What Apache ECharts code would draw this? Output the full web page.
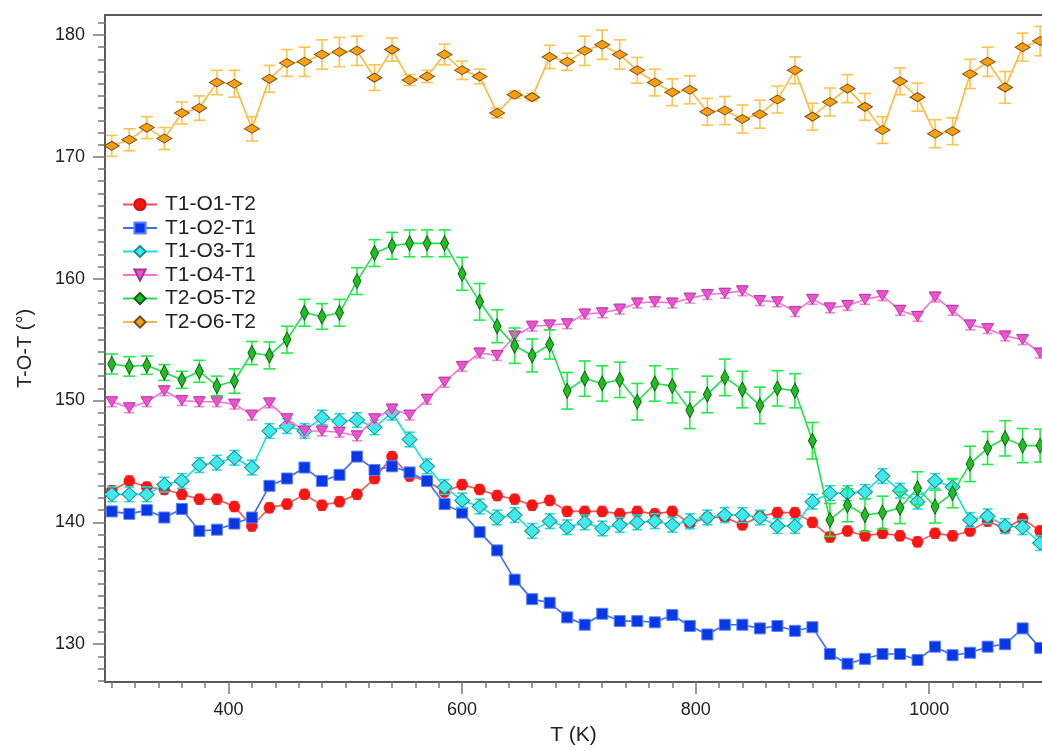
<!DOCTYPE html>
<html><head><meta charset="utf-8">
<script src="https://cdn.jsdelivr.net/npm/echarts@6/dist/echarts.min.js"></script>
<style>html,body{margin:0;padding:0;background:#fff}#c{width:1042px;height:751px}</style>
</head><body><div id="c"></div>
<script>
// Temperatures (K)
const temps = [300,315,330,345,360,375,390,405,420,435,450,465,480,495,510,525,540,555,570,585,600,615,630,645,660,675,690,705,720,735,750,765,780,795,810,825,840,855,870,885,900,915,930,945,960,975,990,1005,1020,1035,1050,1065,1080,1095];

const seriesNames = ['T1-O1-T2','T1-O2-T1','T1-O3-T1','T1-O4-T1','T2-O5-T2','T2-O6-T2'];

const t1o1t2 = [142.6,143.4,142.9,142.7,142.3,141.9,141.9,141.3,139.7,141.2,141.5,142.3,141.4,141.7,142.3,143.6,145.4,143.8,143.4,142.5,143.1,142.7,142.2,141.9,141.4,141.8,140.9,140.9,140.9,140.7,140.9,140.7,140.9,139.9,140.4,140.4,139.8,140.5,140.8,140.8,140.0,138.8,139.3,138.9,139.1,138.9,138.4,139.1,138.9,139.3,140.1,139.5,140.3,139.3];
const t1o2t1 = [140.9,140.7,141.0,140.4,141.1,139.3,139.4,139.9,140.4,143.0,143.6,144.5,143.4,143.9,145.4,144.3,144.6,144.1,143.4,141.5,140.8,139.2,137.7,135.3,133.7,133.4,132.2,131.6,132.5,131.9,131.9,131.8,132.4,131.5,130.8,131.6,131.6,131.3,131.5,131.1,131.4,129.2,128.4,128.8,129.2,129.2,128.7,129.8,129.1,129.3,129.8,130.0,131.3,129.7];
const t1o3t1 = [142.3,142.3,142.3,143.1,143.4,144.7,144.9,145.3,144.5,147.5,147.9,147.5,148.6,148.3,148.4,147.8,149.0,146.8,144.6,142.9,141.8,141.3,140.4,140.6,139.3,140.1,139.6,140.0,139.5,139.8,140.0,140.1,139.8,140.1,140.4,140.6,140.6,140.4,139.7,139.7,141.7,142.4,142.4,142.5,143.8,142.6,141.7,143.4,142.9,140.2,140.5,139.7,139.6,138.3];
const t1o4t1 = [149.9,149.4,149.9,150.8,150.0,149.9,149.9,149.7,148.8,149.8,148.5,147.5,147.5,147.4,147.1,148.5,149.3,148.8,150.1,151.5,152.8,153.9,153.7,155.3,156.1,156.2,156.3,157.1,157.2,157.5,158.0,158.1,158.0,158.4,158.7,158.8,159.0,158.2,158.1,157.3,158.3,157.6,157.8,158.3,158.6,157.4,156.9,158.5,157.4,156.2,155.9,155.3,155.0,153.9];
const t2o5t2 = [153.0,152.8,152.9,152.3,151.7,152.4,151.2,151.6,153.9,153.7,155.0,157.2,156.9,157.2,159.8,162.1,162.7,162.9,162.9,162.9,160.4,158.1,156.1,154.5,153.7,154.6,150.8,151.8,151.4,151.7,149.9,151.4,151.2,149.2,150.5,151.9,150.9,149.6,151.0,150.8,146.7,140.2,141.4,140.6,140.8,141.2,142.8,141.3,142.4,144.8,146.1,146.9,146.3,146.3];
const t2o6t2 = [170.9,171.4,172.4,171.5,173.6,174.0,176.1,176.0,172.3,176.4,177.7,177.8,178.4,178.6,178.7,176.5,178.8,176.3,176.6,178.4,177.1,176.6,173.6,175.1,174.9,178.2,177.8,178.7,179.2,178.4,177.1,176.1,175.3,175.5,173.7,173.8,173.1,173.5,174.7,177.1,173.3,174.5,175.6,174.1,172.2,176.2,174.9,171.9,172.1,176.8,177.8,175.7,179.0,179.5];

// Error bar half-widths (deg)
const errT1O1T2 = [0.4];
const errT1O2T1 = [0.35];
const errT1O3T1 = [0.6];
const errT1O4T1 = [0.4];
const errT2O5T2 = [0.82,0.8,0.75,0.65,0.7,0.9,0.8,1.0,0.95,1.1,1.1,1.1,1.05,1.1,1.1,1.1,1.1,1.1,1.1,1.1,1.35,1.5,1.35,1.45,1.35,1.2,1.5,1.45,1.45,1.45,1.5,1.45,1.4,1.5,1.5,1.5,1.5,1.5,1.45,1.4,1.5,1.35,1.35,1.35,1.35,1.3,1.35,1.35,1.2,1.45,1.35,1.45,1.4,1.35];
const errT2O6T2 = [0.86,0.9,0.9,0.9,0.9,1.0,1.0,1.1,1.0,1.1,1.1,1.2,1.2,1.2,1.2,1.05,0.95,0.45,0.5,0.85,0.75,0.6,0.4,0.3,0.3,0.95,0.7,1.2,1.2,1.2,1.05,1.1,1.1,1.15,1.1,1.15,1.15,1.15,1.1,1.1,1.1,1.15,1.15,1.1,1.1,1.1,1.15,1.15,1.1,1.2,1.2,1.3,1.15,1.2];

// Tick labels
const xTickLabels = [400,600,800,1000];
const xMinorTicks = [300,320,340,360,380,420,440,460,480,500,520,540,560,580,620,640,660,680,700,720,740,760,780,820,840,860,880,900,920,940,960,980,1020,1040,1060,1080];
const yTickLabels = [130,140,150,160,170,180];
const yMinorTicks = [127,128,129,131,132,133,134,135,136,137,138,139,141,142,143,144,145,146,147,148,149,151,152,153,154,155,156,157,158,159,161,162,163,164,165,166,167,168,169,171,172,173,174,175,176,177,178,179,181];

const allVals = [t1o1t2,t1o2t1,t1o3t1,t1o4t1,t2o5t2,t2o6t2];
const allErr = [errT1O1T2,errT1O2T1,errT1O3T1,errT1O4T1,errT2O5T2,errT2O6T2];

const styles = [
  {symbol:'circle', size:11, rotate:0, fill:'#ff1414', border:'#d01010', bw:0.5, line:'#ff5050', err:'#ff6a6a', cap:4},
  {symbol:'rect', size:11, rotate:0, fill:'#0838e6', border:'#5a82ff', bw:1, line:'#3d6bff', err:'#6b8cff', cap:4},
  {symbol:'diamond', size:[15,14], rotate:0, fill:'#40eaea', border:'#1f8f93', bw:1, line:'#10e2e2', err:'#10e2e2', cap:5},
  {symbol:'triangle', size:[12,10], rotate:180, fill:'#f04fd2', border:'#9a3a8c', bw:0.8, line:'#ff6fd9', err:'#ff7fdd', cap:5},
  {symbol:'diamond', size:[8,15], rotate:0, fill:'#1fbf22', border:'#125c14', bw:1, line:'#1de24a', err:'#20ec48', cap:6},
  {symbol:'diamond', size:[15,9], rotate:0, fill:'#ff9f10', border:'#6b5026', bw:1, line:'#ffb93a', err:'#ffc24d', cap:6}
];

function errRender(color, capHalf) {
  return function (params, api) {
    const x = api.value(0), lo = api.value(1), hi = api.value(2);
    const p1 = api.coord([x, lo]);
    const p2 = api.coord([x, hi]);
    const st = {stroke: color, lineWidth: 1.6, fill: null};
    return {type:'group', children:[
      {type:'line', shape:{x1:p1[0], y1:p1[1], x2:p2[0], y2:p2[1]}, style:st},
      {type:'line', shape:{x1:p1[0]-capHalf, y1:p1[1], x2:p1[0]+capHalf, y2:p1[1]}, style:st},
      {type:'line', shape:{x1:p2[0]-capHalf, y1:p2[1], x2:p2[0]+capHalf, y2:p2[1]}, style:st}
    ]};
  };
}

const series = [];
allVals.forEach((vals, k) => {
  const s = styles[k];
  const errs = allErr[k];
  series.push({
    type:'custom', renderItem: errRender(s.err, s.cap), clip:true, z: 2 + k*2,
    data: temps.map((t,i) => { const e = errs.length > 1 ? errs[i] : errs[0]; return [t, vals[i]-e, vals[i]+e]; }),
    encode:{x:0, y:[1,2]}, silent:true
  });
  series.push({
    name: seriesNames[k], type:'line', z: 3 + k*2,
    data: temps.map((t,i) => [t, vals[i]]),
    symbol: s.symbol, symbolSize: s.size, symbolRotate: s.rotate, showAllSymbol:true,
    lineStyle:{color:s.line, width:1.6},
    itemStyle:{color:s.fill, borderColor:s.border, borderWidth:s.bw},
    clip:true
  });
});

const XMIN = 294.2, XMAX = 1096.6, YMIN = 126.9, YMAX = 181.64;
const lblFont = {fontFamily:'Liberation Sans, Arial, sans-serif', fontSize:18, color:'#222', formatter: v => String(v)};

const option = {
  animation:false,
  backgroundColor:'#fff',
  grid:{left:105, right:0, top:15, bottom:67, containLabel:false},
  legend:{
    data: seriesNames, orient:'vertical', left:117, top:189,
    itemWidth:34, itemHeight:14, itemGap:2.5,
    textStyle:{fontFamily:'Liberation Sans, Arial, sans-serif', fontSize:21, color:'#222', lineHeight:20, padding:[0,0,0,3]}
  },
  xAxis:[
    {type:'value', min:XMIN, max:XMAX, position:'bottom',
     axisLine:{show:true, lineStyle:{color:'#5a5a5a', width:2}},
     axisTick:{show:true, customValues:xTickLabels, length:12, lineStyle:{color:'#777', width:1.5}},
     axisLabel:Object.assign({customValues:xTickLabels, margin:19}, lblFont),
     splitLine:{show:false},
     name:'T (K)', nameLocation:'middle', nameGap:43,
     nameTextStyle:{fontFamily:'Liberation Sans, Arial, sans-serif', fontSize:21, color:'#222'}},
    {type:'value', min:XMIN, max:XMAX, position:'bottom',
     axisLine:{show:false},
     axisTick:{show:true, customValues:xMinorTicks, length:6, lineStyle:{color:'#777', width:1.5}},
     axisLabel:{show:false}, splitLine:{show:false}},
    {type:'value', min:XMIN, max:XMAX, position:'top',
     axisLine:{show:true, lineStyle:{color:'#5a5a5a', width:2}},
     axisTick:{show:false}, axisLabel:{show:false}, splitLine:{show:false}}
  ],
  yAxis:[
    {type:'value', min:YMIN, max:YMAX, position:'left',
     axisLine:{show:true, lineStyle:{color:'#5a5a5a', width:2}},
     axisTick:{show:true, customValues:yTickLabels, length:12, lineStyle:{color:'#777', width:1.5}},
     axisLabel:Object.assign({customValues:yTickLabels, margin:20}, lblFont),
     splitLine:{show:false},
     name:'T-O-T (°)', nameLocation:'middle', nameGap:70,
     nameTextStyle:{fontFamily:'Liberation Sans, Arial, sans-serif', fontSize:20, color:'#222'}},
    {type:'value', min:YMIN, max:YMAX, position:'left',
     axisLine:{show:false},
     axisTick:{show:true, customValues:yMinorTicks, length:7, lineStyle:{color:'#777', width:1.5}},
     axisLabel:{show:false}, splitLine:{show:false}}
  ],
  series: series
};

const chart = echarts.init(document.getElementById('c'), null, {renderer:'canvas'});
chart.setOption(option);
</script>
</body></html>
